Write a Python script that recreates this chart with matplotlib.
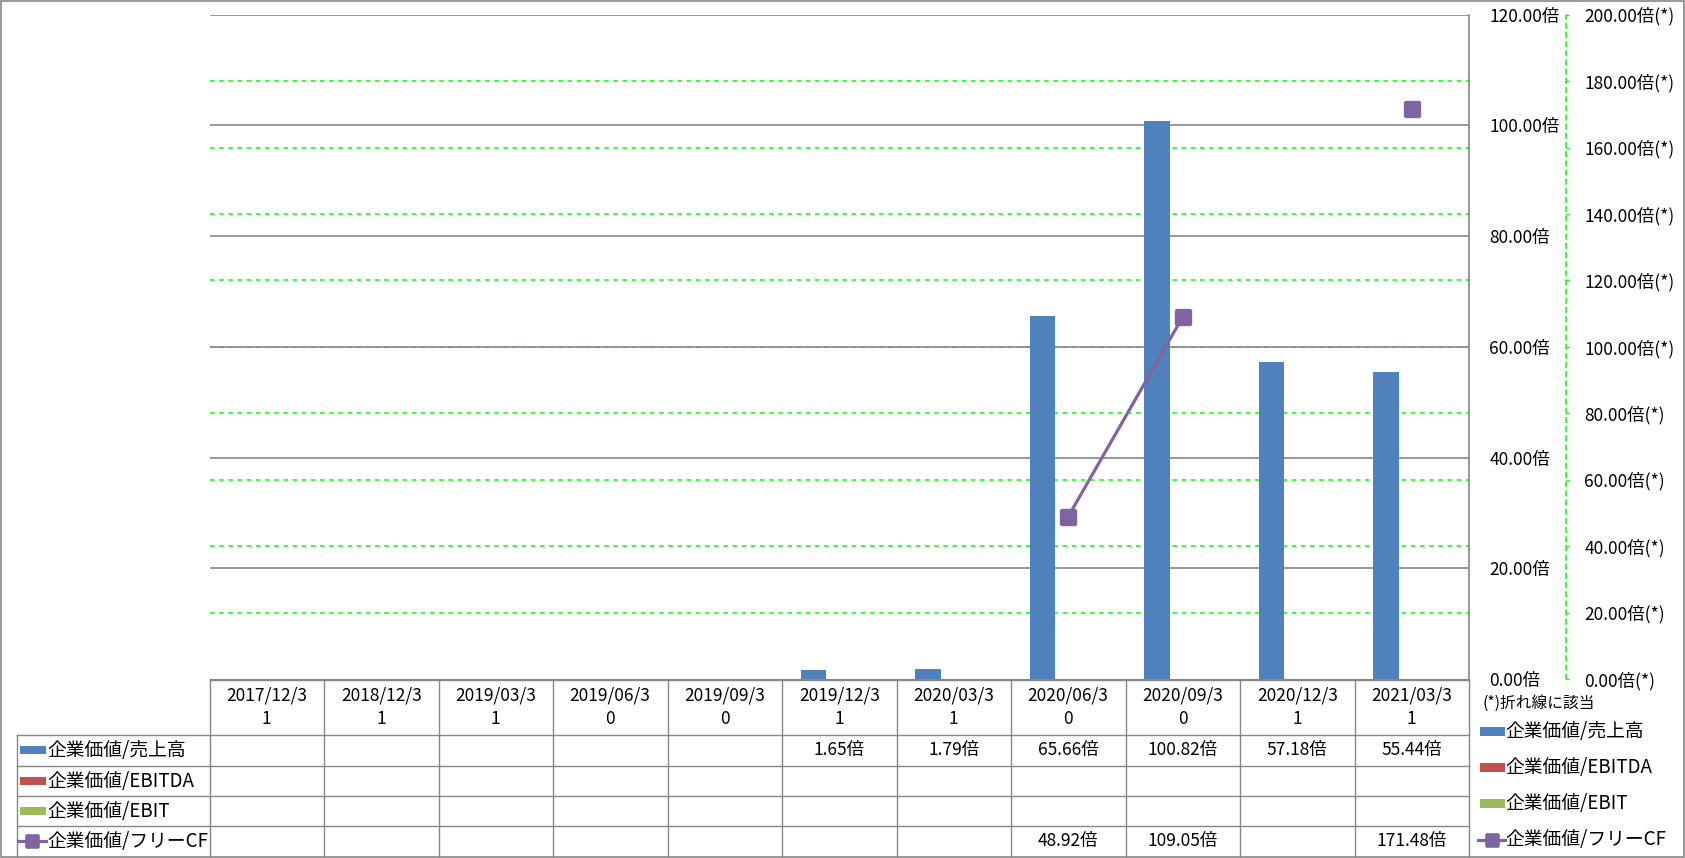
import numpy as np
import matplotlib
matplotlib.use("Agg")
import matplotlib.pyplot as plt
from matplotlib.transforms import blended_transform_factory
from matplotlib.patches import Rectangle
from matplotlib.lines import Line2D
from matplotlib.path import Path
from matplotlib.ticker import FuncFormatter, FixedLocator

plt.rcParams['font.family'] = ['Noto Sans CJK JP', 'DejaVu Sans']

nan = np.nan
categories = ['2017/12/31', '2018/12/31', '2019/03/31', '2019/06/30', '2019/09/30',
              '2019/12/31', '2020/03/31', '2020/06/30', '2020/09/30', '2020/12/31', '2021/03/31']
ev_sales = [nan, nan, nan, nan, nan, 1.65, 1.79, 65.66, 100.82, 57.18, 55.44]
ev_ebitda = [nan] * 11
ev_ebit = [nan] * 11
ev_fcf = [nan, nan, nan, nan, nan, nan, nan, 48.92, 109.05, nan, 171.48]
series_names = ['企業価値/売上高', '企業価値/EBITDA', '企業価値/EBIT', '企業価値/フリーCF']
colors = ['#4F81BD', '#C0504D', '#9BBB59', '#8064A2']

W, H = 1685, 858
FS = 12.5
FS_LBL = 13.5
GRAY = '#868686'
GREEN = '#00FF00'

# rounded square marker
r, c = 0.25, 0.25 * 0.55
verts = [(-1 + r, -1), (1 - r, -1), (1 - r + c, -1), (1, -1 + r - c), (1, -1 + r),
         (1, 1 - r), (1, 1 - r + c), (1 - r + c, 1), (1 - r, 1),
         (-1 + r, 1), (-1 + r - c, 1), (-1, 1 - r + c), (-1, 1 - r),
         (-1, -1 + r), (-1, -1 + r - c), (-1 + r - c, -1), (-1 + r, -1), (-1 + r, -1)]
codes = [Path.MOVETO, Path.LINETO, Path.CURVE4, Path.CURVE4, Path.CURVE4,
         Path.LINETO, Path.CURVE4, Path.CURVE4, Path.CURVE4,
         Path.LINETO, Path.CURVE4, Path.CURVE4, Path.CURVE4,
         Path.LINETO, Path.CURVE4, Path.CURVE4, Path.CURVE4, Path.CLOSEPOLY]
rsq = Path(verts, codes)

fig = plt.figure(figsize=(W / 100, H / 100), dpi=100)

tab = fig.add_axes([0, 0, 1, 1], zorder=0)
tab.set_xlim(0, W)
tab.set_ylim(H, 0)
tab.axis('off')

plot_l, plot_r, plot_t, plot_b = 209.5, 1469, 14.7, 679
ax = fig.add_axes([plot_l / W, (H - plot_b) / H, (plot_r - plot_l) / W, (plot_b - plot_t) / H], zorder=2)
ax.patch.set_visible(False)
ax2 = ax.twinx()

n = len(categories)
x = np.arange(n)
ax.set_xlim(-0.5, n - 0.5)
ax.set_ylim(0, 120)
ax2.set_ylim(0, 200)

prim_ticks = np.arange(0, 121, 20)
sec_ticks = np.arange(0, 201, 20)

# gridlines
for v in prim_ticks[1:]:
    ax.axhline(v, color=GRAY, lw=1.2, zorder=0.7)
grid_tr = blended_transform_factory(ax.transAxes, ax2.transData)
for v in sec_ticks[1:-1]:
    ax.plot([0, 1], [v, v], transform=grid_tr, color=GREEN, lw=1.1,
            ls=(0, (3, 3)), zorder=0.6)

# bars
w = 0.225
for k, vals in enumerate([ev_sales, ev_ebitda, ev_ebit]):
    ax.bar(x + (k - 1) * w, vals, width=w, color=colors[k], zorder=2)

# line
ax2.plot(x, ev_fcf, color=colors[3], lw=2.3, marker=rsq, markersize=12.5,
         markeredgewidth=0, markerfacecolor=colors[3], zorder=3)

# primary axis styling
ax.set_xticks([])
for s in ['top', 'left']:
    ax.spines[s].set_visible(False)
ax.spines['bottom'].set_color(GRAY)
ax.spines['right'].set_color(GRAY)
ax.spines['right'].set_linewidth(1.2)
ax.yaxis.tick_right()
ax.yaxis.set_major_locator(FixedLocator(prim_ticks))
ax.yaxis.set_major_formatter(FuncFormatter(lambda v, p: f'{v:.2f}倍'))
ax.tick_params(axis='y', length=0, pad=14.5, labelsize=FS, labelcolor='black')

# secondary axis styling
for s in ['top', 'left', 'bottom']:
    ax2.spines[s].set_visible(False)
ax2.spines['right'].set_position(('outward', 70))
ax2.spines['right'].set_color(GREEN)
ax2.spines['right'].set_linestyle((0, (3, 3)))
ax2.spines['right'].set_linewidth(1.1)
ax2.yaxis.set_major_locator(FixedLocator(sec_ticks))
ax2.yaxis.set_major_formatter(FuncFormatter(lambda v, p: f'{v:.2f}倍(*)'))
ax2.tick_params(axis='y', length=2.5, width=1, color=GREEN, pad=10.5,
                labelsize=FS, labelcolor='black')

# ---------- table ----------
colx = blended_transform_factory(ax.transData, tab.transData)
t_top, h_bot = 679.5, 735
row_lines = [735, 765.7, 796.3, 826.3]
t_bot = 856.5
leg_l = 16.5

tab.plot([plot_l, plot_r], [t_top, t_top], color=GRAY, lw=1)
for yy in row_lines:
    tab.plot([leg_l, plot_r], [yy, yy], color=GRAY, lw=1)
tab.plot([leg_l, leg_l], [h_bot, t_bot], color=GRAY, lw=1)
for i in range(n + 1):
    tab.plot([i - 0.5, i - 0.5], [t_top, t_bot], color=GRAY, lw=1, transform=colx)

for i, cat in enumerate(categories):
    tab.text(i, 696, cat[:9], transform=colx, ha='center', va='center', fontsize=FS)
    tab.text(i, 719, cat[9:], transform=colx, ha='center', va='center', fontsize=FS)

row_centers = [(row_lines[j] + (row_lines[j + 1] if j + 1 < len(row_lines) else t_bot)) / 2
               for j in range(len(row_lines))]
all_series = [ev_sales, ev_ebitda, ev_ebit, ev_fcf]
for j, vals in enumerate(all_series):
    yc = row_centers[j]
    for i, v in enumerate(vals):
        if not np.isnan(v):
            tab.text(i, yc, f'{v:.2f}倍', transform=colx, ha='center', va='center', fontsize=FS)
    if j < 3:
        tab.add_patch(Rectangle((20, yc - 4), 26, 8, color=colors[j], lw=0))
    else:
        tab.add_line(Line2D([18, 46], [yc, yc], color=colors[j], lw=2.3))
        tab.add_line(Line2D([32], [yc], marker=rsq, markersize=10.5, markeredgewidth=0,
                            markerfacecolor=colors[j]))
    tab.text(47, yc, series_names[j], ha='left', va='center', fontsize=FS_LBL)

# ---------- right legend ----------
tab.text(1483, 703, '(*)折れ線に該当', ha='left', va='center', fontsize=11.3)
leg_y = [731, 767, 803, 840]
for j in range(4):
    yc = leg_y[j]
    if j < 3:
        tab.add_patch(Rectangle((1480, yc - 4.5), 25, 9, color=colors[j], lw=0))
    else:
        tab.add_line(Line2D([1478, 1505], [yc, yc], color=colors[j], lw=2.3))
        tab.add_line(Line2D([1491.5], [yc], marker=rsq, markersize=10.5, markeredgewidth=0,
                            markerfacecolor=colors[j]))
    tab.text(1505, yc, series_names[j], ha='left', va='center', fontsize=FS_LBL)

# outer border
tab.add_patch(Rectangle((0.5, 0.5), W - 1.5, H - 1.5, fill=False, edgecolor=GRAY, lw=1.2))

fig.savefig('out.png', dpi=100)
